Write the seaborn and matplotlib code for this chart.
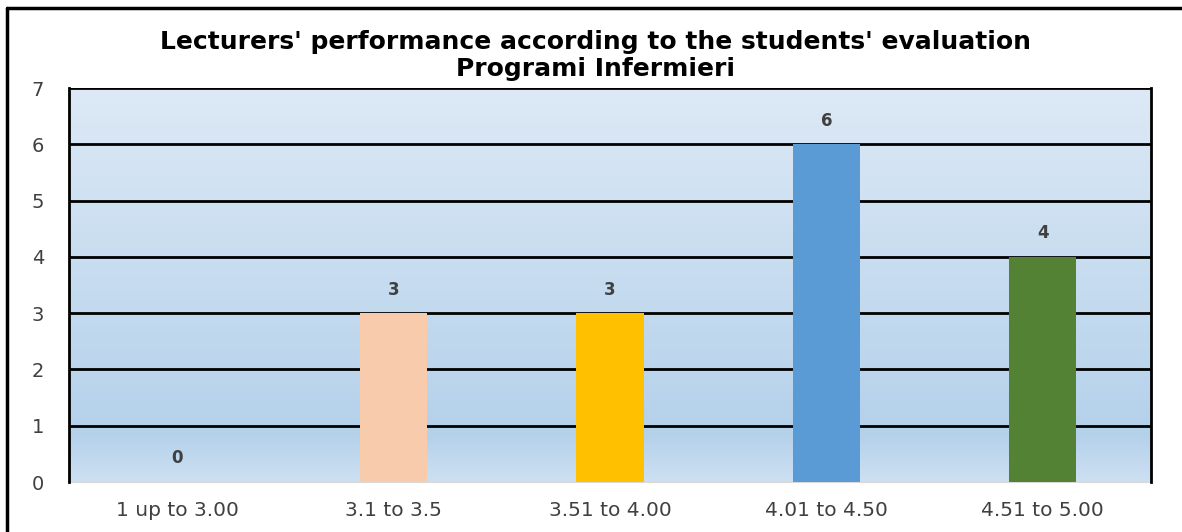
import numpy as np
import pandas as pd
import matplotlib
matplotlib.use("Agg")
import matplotlib.pyplot as plt
from matplotlib.colors import LinearSegmentedColormap
from matplotlib.lines import Line2D
import seaborn as sns

categories = ["1 up to 3.00", "3.1 to 3.5", "3.51 to 4.00", "4.01 to 4.50", "4.51 to 5.00"]
values = [0, 3, 3, 6, 4]
bar_colors = ["#9dc3e6", "#f8cbad", "#ffc000", "#5b9bd5", "#548235"]
yticks = [0, 1, 2, 3, 4, 5, 6, 7]
title_line1 = "Lecturers' performance according to the students' evaluation"
title_line2 = "Programi Infermieri"

sns.set_theme(style="white")
plt.rcParams['font.family'] = ['DejaVu Sans']

W, H = 1182, 532
fig = plt.figure(figsize=(W / 100, H / 100), dpi=100)
ax = fig.add_axes([69 / W, (H - 482) / H, (1151 - 69) / W, (482 - 88) / H])

df = pd.DataFrame({"cat": categories, "val": values})
sns.barplot(data=df, x="cat", y="val", hue="cat", palette=bar_colors, legend=False,
            width=0.31, saturation=1, ax=ax, zorder=3, linewidth=0, edgecolor="none")

ax.set_xlim(-0.5, len(categories) - 0.5)
ax.set_ylim(0, 7)

# gradient background
cmap = LinearSegmentedColormap.from_list("bg", [(0.0, "#cde0f2"), (0.12, "#b4d1ea"), (1.0, "#dde9f6")])
grad = np.linspace(0, 1, 256).reshape(-1, 1)
ax.imshow(grad, extent=(-0.5, len(categories) - 0.5, 0, 7), origin="lower", aspect="auto",
          cmap=cmap, zorder=0)

ax.set_yticks(yticks)
for yv in yticks[1:]:
    ax.axhline(yv, color="black", lw=2, zorder=2)

for sp in ["left", "right"]:
    ax.spines[sp].set_color("black")
    ax.spines[sp].set_linewidth(2)
    ax.spines[sp].set_zorder(4)
ax.spines["top"].set_visible(False)
ax.spines["bottom"].set_color("#d9d9d9")
ax.spines["bottom"].set_linewidth(1.5)

ax.set_xlabel("")
ax.set_ylabel("")
ax.tick_params(axis="x", length=0, pad=14, labelsize=14.5, colors="#404040")
ax.tick_params(axis="y", length=0, pad=18, labelsize=14, colors="#404040")

for i, v in enumerate(values):
    ax.annotate(str(v), (i, v), xytext=(0, 17), textcoords="offset points",
                ha="center", va="center", fontsize=12, fontweight="bold",
                color="#404040", zorder=5)

fig.text(595 / W, 1 - 49 / H, title_line1, ha="center", va="baseline", fontsize=18,
         fontweight="bold", color="black")
fig.text(595 / W, 1 - 76 / H, title_line2, ha="center", va="baseline", fontsize=18,
         fontweight="bold", color="black")

# outer frame (top and left)
fig.add_artist(Line2D([7 / W, 1.0], [1 - 8 / H, 1 - 8 / H], color="black", lw=2.5, transform=fig.transFigure))
fig.add_artist(Line2D([7 / W, 7 / W], [0, 1 - 8 / H], color="black", lw=2.5, transform=fig.transFigure))

fig.savefig("out.png", dpi=100, facecolor="white")
